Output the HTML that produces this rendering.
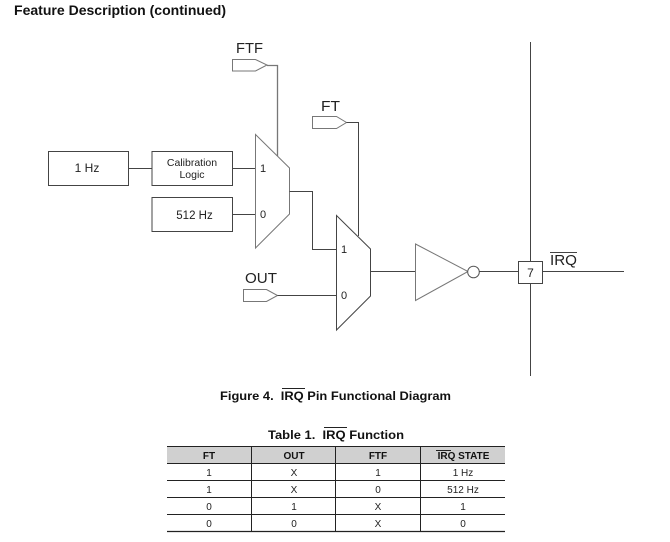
<!DOCTYPE html>
<html><head><meta charset="utf-8">
<style>
html,body{margin:0;padding:0;background:#fff}
svg{display:block;filter:blur(0.3px)}
text{font-family:"Liberation Sans",sans-serif;fill:#222}
.b{font-weight:bold;fill:#111}
.m{text-anchor:middle}
.l{fill:none;stroke:#444;stroke-width:1}
.g{fill:none;stroke:#777;stroke-width:1}
.t{stroke:#222;stroke-width:1}
</style></head><body>
<svg width="670" height="542" viewBox="0 0 670 542" xmlns="http://www.w3.org/2000/svg">
<text class="b" x="14" y="15" font-size="14" textLength="212" lengthAdjust="spacingAndGlyphs">Feature Description (continued)</text>

<!-- left boxes -->
<rect x="48.5" y="151.5" width="80" height="34" class="l"/>
<rect x="152" y="151.5" width="80.5" height="34" class="l"/>
<rect x="152" y="197.5" width="80.5" height="34" class="l"/>
<path d="M128.5 168.5H152M232.5 168.5H255M232.5 214.5H255" class="l"/>
<text class="m" x="87" y="172" font-size="12">1 Hz</text>
<text class="m" x="192" y="166" font-size="10.5">Calibration</text>
<text class="m" x="192" y="178" font-size="10.5">Logic</text>
<text class="m" x="194.5" y="219" font-size="11.5">512 Hz</text>

<!-- mux 1 -->
<path d="M255.5 134.5L289.5 168V214L255.5 248Z" class="g"/>
<text x="260" y="172" font-size="11">1</text>
<text x="260" y="218" font-size="11">0</text>
<text x="236" y="53" font-size="15" textLength="27" lengthAdjust="spacingAndGlyphs">FTF</text>
<path d="M232.5 59.5H255.5L267 65L255.5 71H232.5Z" class="g"/>
<path d="M267 65.5H277.5V156" class="g" style="stroke-width:1.3"/>

<!-- mux 2 -->
<path d="M336.5 215.5L370.5 249V296L336.5 330Z" class="l"/>
<text x="341" y="253" font-size="11">1</text>
<text x="341" y="299" font-size="11">0</text>
<path d="M289.5 191.5H312.5V249.5H336" class="l"/>
<text x="321" y="111" font-size="15" textLength="19" lengthAdjust="spacingAndGlyphs">FT</text>
<path d="M312.5 116.5H336.5L346.5 122.5L336.5 128.5H312.5Z" class="g"/>
<path d="M346.5 122.5H358.5V236" class="l"/>
<text x="245" y="283" font-size="15" textLength="32" lengthAdjust="spacingAndGlyphs">OUT</text>
<path d="M243.5 289.5H266.5L277.5 295.5L266.5 301.5H243.5Z" class="g"/>
<path d="M277.5 295.5H336" class="l"/>
<path d="M370.5 271.5H415.5" class="l"/>

<!-- inverter -->
<path d="M415.5 244L468 271.5L415.5 300.5Z" class="g"/>
<circle cx="473.5" cy="272" r="5.8" fill="#fff" stroke="#555"/>
<path d="M479.5 271.5H518" class="l"/>
<path d="M530.5 42V261M530.5 284V376" class="l"/>
<rect x="518.5" y="261.5" width="24" height="22" class="l"/>
<text class="m" x="530.5" y="277" font-size="12">7</text>
<path d="M542.5 271.5H624" class="l"/>
<text x="550" y="265" font-size="15" textLength="27" lengthAdjust="spacingAndGlyphs">IRQ</text>
<path d="M550 252.5H577" class="l"/>

<!-- captions -->
<text class="b" x="220" y="400" font-size="11.5" textLength="231" lengthAdjust="spacingAndGlyphs" xml:space="preserve">Figure 4.  IRQ Pin Functional Diagram</text>
<path d="M282 388.5H305" class="t"/>
<text class="b" x="268" y="439" font-size="11.5" textLength="136" lengthAdjust="spacingAndGlyphs" xml:space="preserve">Table 1.  IRQ Function</text>
<path d="M324 427.5H347" class="t"/>

<!-- table -->
<rect x="167" y="447" width="338" height="16" fill="#d0d0d0"/>
<path d="M167 446.5H505M167 463.5H505M167 480.5H505M167 497.5H505M167 514.5H505" class="t"/>
<path d="M167 531.5H505" class="t" style="stroke-width:1.2"/>
<path d="M251.5 447V532M335.5 447V532M420.5 447V532" class="t"/>
<g font-size="10" class="m">
<text class="b m" x="209" y="459">FT</text><text class="b m" x="294" y="459">OUT</text><text class="b m" x="378" y="459">FTF</text><text class="b m" x="463.5" y="459">IRQ STATE</text>
<text class="m" x="209" y="476">1</text><text class="m" x="294" y="476">X</text><text class="m" x="378" y="476">1</text><text class="m" x="463" y="476">1 Hz</text>
<text class="m" x="209" y="493">1</text><text class="m" x="294" y="493">X</text><text class="m" x="378" y="493">0</text><text class="m" x="463" y="493">512 Hz</text>
<text class="m" x="209" y="510">0</text><text class="m" x="294" y="510">1</text><text class="m" x="378" y="510">X</text><text class="m" x="463" y="510">1</text>
<text class="m" x="209" y="527">0</text><text class="m" x="294" y="527">0</text><text class="m" x="378" y="527">X</text><text class="m" x="463" y="527">0</text>
</g>
<path d="M436 450.5H451" class="t"/>
</svg>
</body></html>
